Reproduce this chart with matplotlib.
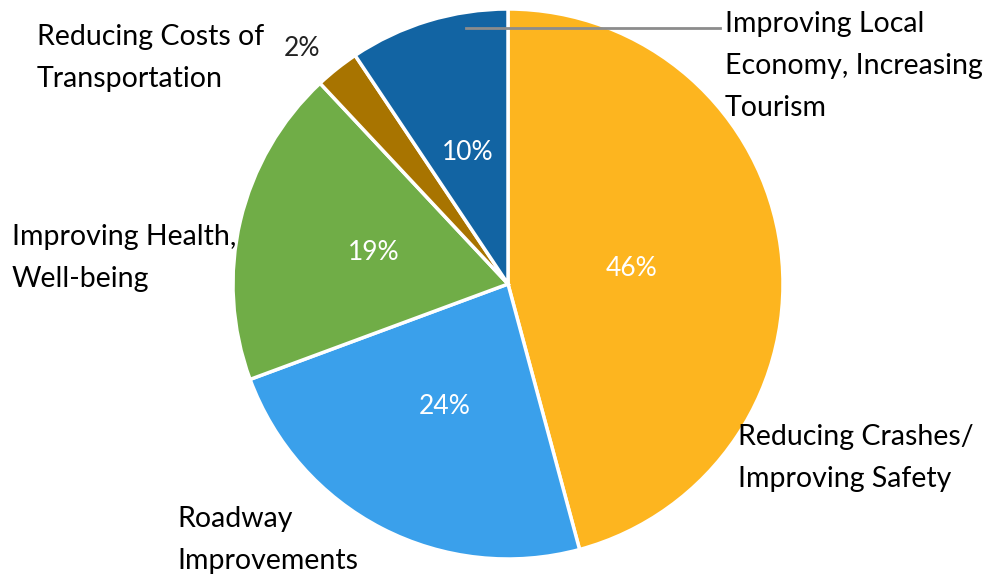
import matplotlib.pyplot as plt

# DATA

categories = ["Reducing Crashes/\nImproving Safety", "Roadway\nImprovements",
              "Improving Health,\nWell-being", "Reducing Costs of\nTransportation",
              "Improving Local\nEconomy, Increasing\nTourism"]
values = [45.9, 23.6, 18.7, 2.6, 9.4]
pct_labels = ["46%", "24%", "19%", "2%", "10%"]
colors = ["#FDB51F", "#3AA0EB", "#70AD47", "#A87400", "#1264A3"]

plt.rcParams['font.family'] = ['Lato', 'DejaVu Sans']

# PLOT

fig = plt.figure(figsize=(9.97, 5.78), dpi=100)
ax = fig.add_axes([0, 0, 1, 1])

wedges, texts, autotexts = ax.pie(
    values, colors=colors, startangle=90, counterclock=False,
    center=(508, 294), radius=275, autopct="%1.0f%%", pctdistance=0.5,
    wedgeprops=dict(edgecolor="white", linewidth=2.5),
    textprops=dict(color="white", fontsize=19))

for t, lab in zip(autotexts, pct_labels):
    t.set_text(lab)
autotexts[0].set_position((632, 310))
# small slice label sits outside
autotexts[3].set_position((302, 530))
autotexts[3].set_color("#222222")

# category labels around the pie
label_pos = [(738, 120), (177, 38), (12, 320), (37, 520), (725, 512)]
for lab, (x, y) in zip(categories, label_pos):
    ax.text(x, y, lab, ha="left", va="center", fontsize=20.5,
            color="black", linespacing=1.75)

# leader line for the economy slice
ax.plot([466, 720], [550, 550], color="#8C8C8C", linewidth=2)

ax.set_xlim(0, 997)
ax.set_ylim(0, 578)
ax.set_aspect("equal")
ax.axis("off")

fig.savefig("out.png", dpi=100)
